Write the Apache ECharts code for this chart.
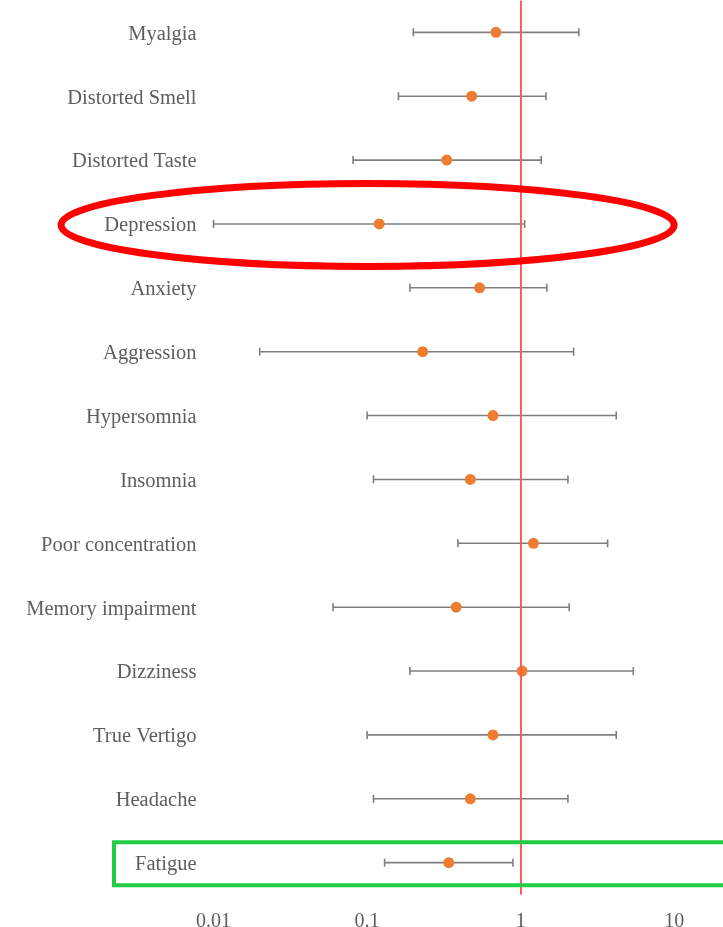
<!DOCTYPE html>
<html>
<head>
<meta charset="utf-8">
<script src="https://cdn.jsdelivr.net/npm/echarts@6/dist/echarts.min.js"></script>
<style>
  html, body { margin: 0; padding: 0; background: #fff; }
  #chart { width: 723px; height: 927px; }
</style>
</head>
<body>
<div id="chart"></div>
<script>
// Symptoms, listed top to bottom
const symptoms = [
  'Myalgia', 'Distorted Smell', 'Distorted Taste', 'Depression', 'Anxiety',
  'Aggression', 'Hypersomnia', 'Insomnia', 'Poor concentration',
  'Memory impairment', 'Dizziness', 'True Vertigo', 'Headache', 'Fatigue'
];
// Odds ratios with lower / upper 95% confidence limits
const oddsRatio = [0.69, 0.48, 0.33, 0.12, 0.54, 0.23, 0.66, 0.47, 1.21, 0.38, 1.02, 0.66, 0.47, 0.34];
const ciLower   = [0.20, 0.16, 0.081, 0.010, 0.19, 0.020, 0.10, 0.11, 0.39, 0.060, 0.19, 0.10, 0.11, 0.13];
const ciUpper   = [2.39, 1.46, 1.36, 1.06, 1.48, 2.21, 4.19, 2.03, 3.68, 2.07, 5.41, 4.19, 2.03, 0.89];
// Log axis tick labels
const tickLabels = ['0.01', '0.1', '1', '10'];

const textColor = '#5e5e5e';
const serif = '"Liberation Serif", "Times New Roman", serif';

const chart = echarts.init(document.getElementById('chart'), null, { renderer: 'canvas' });

const option = {
  animation: false,
  backgroundColor: '#ffffff',
  grid: {
    left: 213.5, right: 48.7, top: 0.4, bottom: 32.4,
    containLabel: false,
    outerBoundsMode: 'none'
  },
  xAxis: {
    type: 'log',
    logBase: 10,
    min: 0.01,
    max: 10,
    axisLine: { show: false },
    axisTick: { show: false },
    splitLine: { show: false },
    axisLabel: {
      color: textColor,
      fontFamily: serif,
      fontSize: 20,
      margin: 17,
      formatter: (v, i) => tickLabels[i] !== undefined ? tickLabels[i] : ''
    }
  },
  yAxis: {
    type: 'category',
    data: symptoms,
    inverse: true,
    axisLine: { show: false },
    axisTick: { show: false },
    splitLine: { show: false },
    axisLabel: {
      margin: 17,
      formatter: (v) => '{t|' + v + '}',
      rich: {
        t: {
          color: textColor,
          fontFamily: serif,
          fontSize: 20.5,
          padding: [4, 0, 0, 0]
        }
      }
    }
  },
  series: [
    {
      // confidence interval whiskers
      type: 'custom',
      z: 2,
      silent: true,
      data: symptoms.map((s, i) => [ciLower[i], ciUpper[i], i]),
      encode: { x: [0, 1], y: 2 },
      renderItem: function (params, api) {
        const cat = api.value(2);
        const a = api.coord([api.value(0), cat]);
        const b = api.coord([api.value(1), cat]);
        const cap = 4;
        const style = { stroke: '#7f7f7f', lineWidth: 1.6 };
        return {
          type: 'group',
          children: [
            { type: 'line', shape: { x1: a[0], y1: a[1], x2: b[0], y2: b[1] }, style },
            { type: 'line', shape: { x1: a[0], y1: a[1] - cap, x2: a[0], y2: a[1] + cap }, style },
            { type: 'line', shape: { x1: b[0], y1: b[1] - cap, x2: b[0], y2: b[1] + cap }, style }
          ]
        };
      }
    },
    {
      // reference line at OR = 1
      type: 'scatter',
      z: 3,
      data: [],
      markLine: {
        silent: true,
        symbol: 'none',
        label: { show: false },
        lineStyle: { color: '#ff5c5c', width: 2, type: 'solid' },
        data: [{ xAxis: 1 }]
      }
    },
    {
      // point estimates
      type: 'scatter',
      z: 4,
      symbol: 'circle',
      symbolSize: 11,
      itemStyle: { color: '#ED7D31', opacity: 1 },
      data: symptoms.map((s, i) => [oddsRatio[i], i])
    }
  ]
};

chart.setOption(option);

// Highlight overlays: ellipse around Depression, box around Fatigue
const depY = chart.convertToPixel({ yAxisIndex: 0 }, 'Depression');
const midX = chart.convertToPixel({ xAxisIndex: 0 }, 0.1);
const fatY = chart.convertToPixel({ yAxisIndex: 0 }, 'Fatigue');

chart.setOption({
  graphic: [
    {
      type: 'ellipse',
      z: 10,
      silent: true,
      shape: { cx: midX + 0.5, cy: depY + 1, rx: 306.5, ry: 41.5 },
      style: { fill: 'none', stroke: '#ff0000', lineWidth: 7 }
    },
    {
      type: 'rect',
      z: 10,
      silent: true,
      shape: { x: 114, y: fatY - 20.5, width: 640, height: 43 },
      style: { fill: 'none', stroke: '#22cc44', lineWidth: 4 }
    }
  ]
});
</script>
</body>
</html>
